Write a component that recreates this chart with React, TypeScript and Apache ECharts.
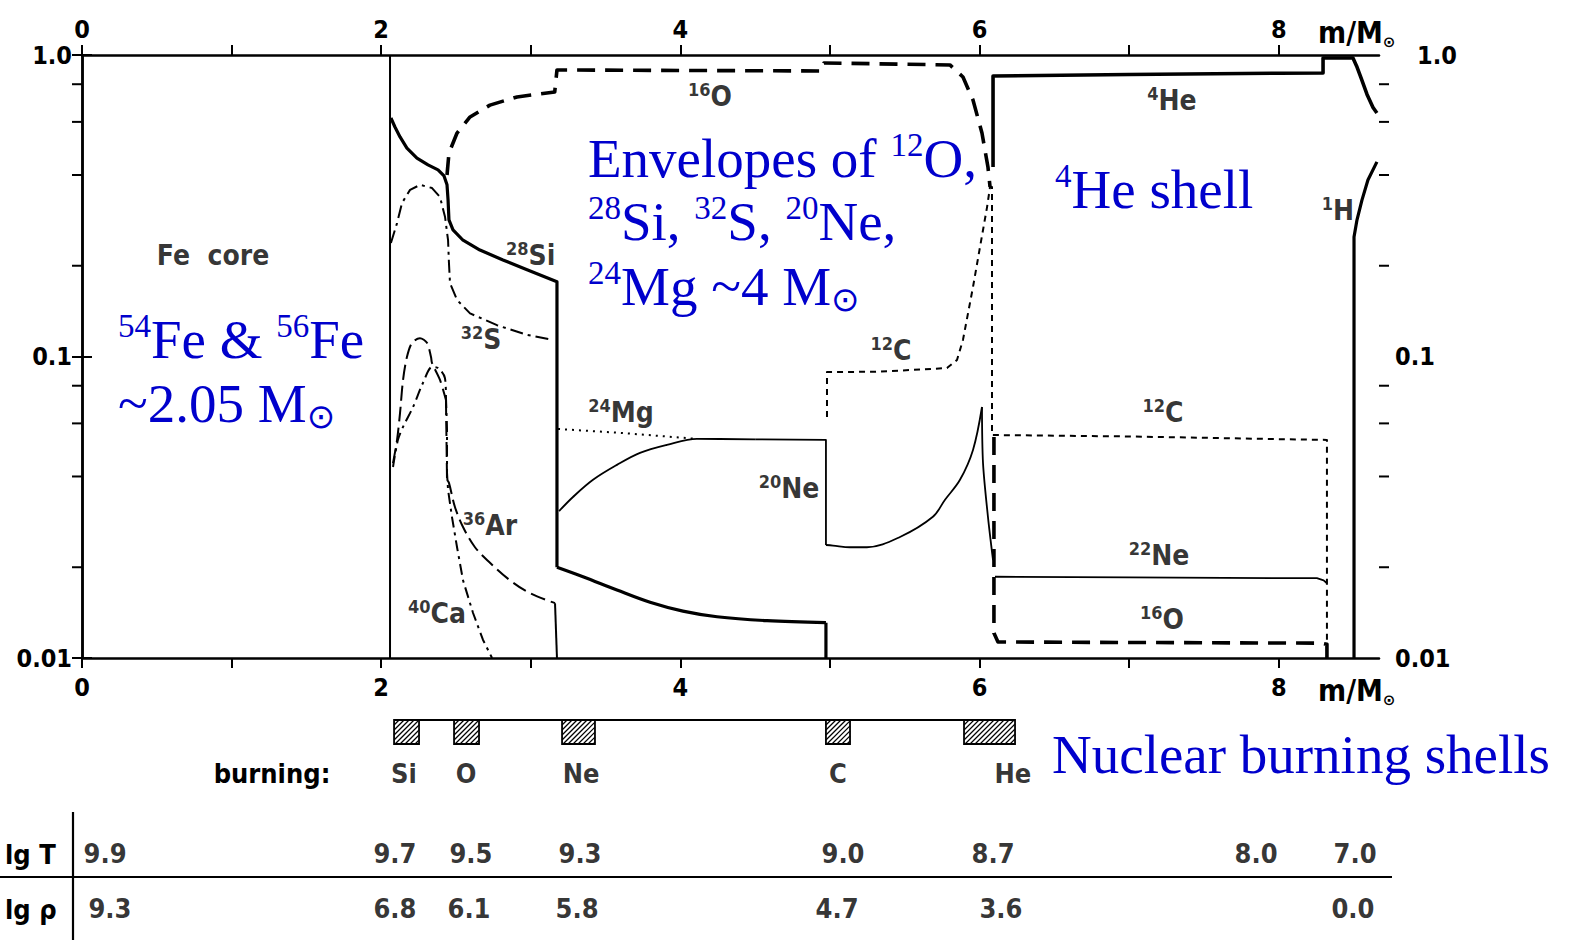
import React, { useEffect, useRef } from 'react';
import * as echarts from 'echarts';

// ---------- axes ----------
const X_MAX = 8.67;
const xTickValues = [0, 1, 2, 3, 4, 5, 6, 7, 8];
const xLabelValues = [0, 2, 4, 6, 8];
const yMinorTicks = [0.02, 0.04, 0.06, 0.08, 0.2, 0.4, 0.6, 0.8];

// ---------- abundance profiles: [m/Msun, mass fraction] ----------
const feBoundary = [[2.059, 1.0], [2.059, 0.01]];

const si28Core = [
  [2.065, 0.618], [2.092, 0.577], [2.126, 0.535], [2.172, 0.491], [2.239, 0.455], [2.313, 0.432],
  [2.38, 0.416], [2.42, 0.397], [2.44, 0.371], [2.447, 0.33], [2.453, 0.284], [2.48, 0.263],
  [2.547, 0.243], [2.66, 0.2255], [2.814, 0.209], [2.975, 0.194], [3.175, 0.177], [3.175, 0.02],
];
const si28Envelope = [
  [3.175, 0.02], [3.349, 0.0186], [3.576, 0.0168], [3.797, 0.0153], [4.017, 0.0143], [4.245, 0.0137],
  [4.579, 0.0133], [4.973, 0.0131],
];
const si28Edge = [[4.973, 0.0131], [4.973, 0.01]];

const s32 = [
  [2.065, 0.238], [2.106, 0.277], [2.139, 0.323], [2.193, 0.357], [2.26, 0.371], [2.34, 0.362],
  [2.393, 0.338], [2.427, 0.29], [2.447, 0.243], [2.453, 0.204], [2.46, 0.175], [2.507, 0.154],
  [2.594, 0.139], [2.774, 0.127], [2.975, 0.118], [3.148, 0.1135],
];

const ar36Arch = [
  [2.079, 0.0443], [2.106, 0.0529], [2.126, 0.065], [2.146, 0.0836], [2.172, 0.0996], [2.206, 0.111],
  [2.259, 0.115], [2.306, 0.111], [2.333, 0.0996], [2.34, 0.0951], [2.393, 0.0836], [2.433, 0.0717],
];
const ar36Drop = [[2.433, 0.0717], [2.44, 0.039]];
const ar36Tail = [
  [2.44, 0.039], [2.453, 0.0381], [2.493, 0.0317], [2.547, 0.0272], [2.627, 0.0233], [2.727, 0.0207],
  [2.861, 0.0181], [2.995, 0.0164], [3.162, 0.0152],
];
const ar36Edge = [[3.162, 0.0152], [3.175, 0.01]];

const ca40Arch = [
  [2.079, 0.043], [2.112, 0.0529], [2.146, 0.0584], [2.213, 0.068], [2.279, 0.0817], [2.34, 0.0923],
  [2.38, 0.0916], [2.426, 0.0849], [2.433, 0.0734],
];
const ca40Tail = [
  [2.433, 0.0734], [2.44, 0.0571], [2.44, 0.0411], [2.447, 0.0361], [2.473, 0.0294], [2.507, 0.0233],
  [2.547, 0.0181], [2.614, 0.0141], [2.68, 0.0115], [2.741, 0.01],
];

const o16Core = [
  [2.44, 0.4], [2.453, 0.473], [2.507, 0.551], [2.594, 0.623], [2.727, 0.682], [2.908, 0.726],
  [3.16, 0.754], [3.175, 0.892], [4.94, 0.885], [4.96, 0.941], [5.802, 0.927], [5.889, 0.845],
  [5.956, 0.709], [6.016, 0.551], [6.056, 0.425], [6.07, 0.365],
];
const o16Shell = [
  [6.096, 0.0541], [6.096, 0.0121], [6.123, 0.0113], [8.289, 0.0112], [8.322, 0.0111], [8.322, 0.01],
];

const mg24 = [[3.182, 0.0575], [3.6, 0.0558], [4.111, 0.0533]];

const ne20Rise = [
  [3.189, 0.0307], [3.282, 0.0342], [3.416, 0.039], [3.576, 0.0437], [3.73, 0.0479], [3.91, 0.0509],
  [4.111, 0.0533], [4.5, 0.0531],
];
const ne20Step = [[4.5, 0.0531], [4.973, 0.0529], [4.973, 0.0237]];
const ne20Trough = [
  [4.973, 0.0237], [5.02, 0.0236], [5.134, 0.0233], [5.247, 0.0233], [5.468, 0.0252], [5.688, 0.0294],
  [5.769, 0.0335], [5.869, 0.039], [5.956, 0.049], [6.016, 0.068],
];
const ne20Fall = [[6.016, 0.068], [6.023, 0.0443], [6.056, 0.0294], [6.09, 0.0211]];

const c12 = [
  [4.98, 0.063], [4.98, 0.0888], [5.3, 0.089], [5.6, 0.0905], [5.782, 0.0916], [5.849, 0.0974],
  [5.889, 0.1135], [5.956, 0.17], [6.003, 0.231], [6.05, 0.313], [6.07, 0.365], [6.083, 0.365],
  [6.083, 0.0549], [7.0, 0.0543], [8.0, 0.0532], [8.322, 0.0529], [8.322, 0.01],
];
const ne22 = [[6.103, 0.0186], [7.0, 0.0185], [8.0, 0.0184], [8.255, 0.0184], [8.3, 0.0181], [8.322, 0.0177]];
const he4 = [
  [6.09, 0.425], [6.09, 0.852], [7.0, 0.862], [8.0, 0.87], [8.296, 0.872], [8.296, 0.977],
  [8.496, 0.977], [8.52, 0.92], [8.55, 0.84], [8.59, 0.74], [8.63, 0.67], [8.656, 0.642],
];
const h1 = [[8.503, 0.01], [8.503, 0.249], [8.523, 0.284], [8.556, 0.33], [8.596, 0.385], [8.656, 0.442]];

// species labels: [m, X, mass number, element]
const speciesLabels = [
  [4.198, 0.731, '16', 'O'],
  [7.286, 0.709, '4', 'He'],
  [2.999, 0.217, '28', 'Si'],
  [2.667, 0.1135, '32', 'S'],
  [5.408, 0.105, '12', 'C'],
  [3.603, 0.065, '24', 'Mg'],
  [7.226, 0.065, '12', 'C'],
  [4.726, 0.0366, '20', 'Ne'],
  [2.727, 0.0276, '36', 'Ar'],
  [7.2, 0.0218, '22', 'Ne'],
  [2.373, 0.014, '40', 'Ca'],
  [7.219, 0.0134, '16', 'O'],
  [8.396, 0.306, '1', 'H'],
  [0.876, 0.217, '', 'Fe  core'],
];

// burning shells: [name, m start, m end]
const burningShells = [
  ['Si', 2.086, 2.253],
  ['O', 2.487, 2.654],
  ['Ne', 3.209, 3.429],
  ['C', 4.973, 5.134],
  ['He', 5.896, 6.237],
];
const burningLabelM = [2.152, 2.567, 3.336, 5.053, 6.223];

// lg T and lg rho table
const tableRows = ['lg T', 'lg ρ'];
const lgTMass = [0.154, 2.092, 2.6, 3.329, 5.087, 6.09, 7.848, 8.51];
const lgTValues = ['9.9', '9.7', '9.5', '9.3', '9.0', '8.7', '8.0', '7.0'];
const lgRhoMass = [0.187, 2.092, 2.587, 3.309, 5.047, 6.143, 8.496];
const lgRhoValues = ['9.3', '6.8', '6.1', '5.8', '4.7', '3.6', '0.0'];

// ---------- styles ----------
const BLACK_FONT = "'DejaVu Sans Condensed', 'Liberation Sans Narrow', 'Liberation Sans', sans-serif";
const BLUE_FONT = "'Liberation Serif', 'DejaVu Serif', serif";
const INK = '#000';
const BLUE = '#0000cc';

const blueRich = {
  n: { fontFamily: BLUE_FONT, fontSize: 55, lineHeight: 60, fill: BLUE, color: BLUE, verticalAlign: 'middle' },
  s: { fontFamily: BLUE_FONT, fontSize: 33, lineHeight: 36, fill: BLUE, color: BLUE, verticalAlign: 'top' },
  o: { fontFamily: "'DejaVu Sans', 'DejaVu Serif', sans-serif", fontSize: 34, lineHeight: 34, fill: BLUE, color: BLUE, verticalAlign: 'bottom' },
};
const blackRich = {
  n: { fontFamily: BLACK_FONT, fontSize: 28, fontWeight: 'bold', lineHeight: 32, color: INK, verticalAlign: 'middle' },
  s: { fontFamily: BLACK_FONT, fontSize: 18, fontWeight: 'bold', lineHeight: 16, color: INK, verticalAlign: 'top' },
};
const unitRich = {
  a: { fontFamily: BLACK_FONT, fontSize: 30, fontWeight: 'bold', lineHeight: 34, fill: INK, color: INK, verticalAlign: 'middle' },
  b: { fontFamily: "'DejaVu Sans', sans-serif", fontSize: 15, fontWeight: 'bold', lineHeight: 15, fill: INK, color: INK, verticalAlign: 'bottom' },
};

const blueText = (x: number, baseline: number, text: string) => ({
  type: 'text', x, y: baseline - 49, silent: true,
  style: { text, rich: blueRich, fill: BLUE, align: 'left', verticalAlign: 'top', textAlign: 'left', textVerticalAlign: 'top' },
});
const plainText = (x: number, y: number, text: string, align = 'left') => ({
  type: 'text', x, y, silent: true,
  style: { text, fill: INK, font: `bold 27px ${BLACK_FONT}`, align, verticalAlign: 'middle', textAlign: align, textVerticalAlign: 'middle' },
});
const unitText = (x: number, y: number) => ({
  type: 'text', x, y, silent: true,
  style: { text: '{a|m/M}{b|⊙}', rich: unitRich, fill: INK, align: 'left', verticalAlign: 'middle', textAlign: 'left', textVerticalAlign: 'middle' },
});

const fmtY = (v: number) => (v >= 0.99 ? '1.0' : String(+Number(v).toPrecision(1)));

const lineSeries = (name: string, data: number[][], width: number, type: any = 'solid', smooth: number | boolean = false) => ({
  name, type: 'line', data, xAxisIndex: 0, yAxisIndex: 0, showSymbol: false, symbol: 'none', silent: true, smooth,
  lineStyle: { color: INK, width, type, cap: 'butt', join: 'round' }, z: 3,
});

const axisLabelBase = { color: INK, fontSize: 25, fontWeight: 'bold', fontFamily: BLACK_FONT };
const valueLabel = { show: true, position: 'inside', color: INK, fontSize: 27, fontWeight: 'bold', fontFamily: BLACK_FONT };

export default function App() {
  const ref = useRef<HTMLDivElement>(null);
  useEffect(() => {
    if (!ref.current) return;
    const chart = echarts.init(ref.current, undefined, { renderer: 'svg' });
    const xAxisCommon = {
      type: 'value', min: 0, max: X_MAX, interval: 1,
      axisLine: { show: true, lineStyle: { color: INK, width: 2.5 } },
      axisTick: { show: true, length: 10, lineStyle: { color: INK, width: 2 }, customValues: xTickValues },
      axisLabel: { ...axisLabelBase, customValues: xLabelValues, formatter: (v: number) => String(v) },
      splitLine: { show: false },
    };
    const yAxisCommon = {
      type: 'log', logBase: 10, min: 0.01, max: 1,
      axisLine: { show: true, lineStyle: { color: INK, width: 2.5 } },
      axisTick: { show: true, length: 10, lineStyle: { color: INK, width: 2 } },
      splitLine: { show: false },
      minorTick: { show: false },
    };
    const option: any = {
      animation: false,
      backgroundColor: '#fff',
      textStyle: { fontFamily: BLACK_FONT },
      grid: [
        { left: 82, right: 196, top: 55, bottom: 282 },
        { left: 82, right: 196, top: 720, height: 24 },
        { left: 82, right: 196, top: 826, height: 110 },
      ],
      xAxis: [
        { ...xAxisCommon, gridIndex: 0, position: 'bottom', axisLabel: { ...xAxisCommon.axisLabel, margin: 17 } },
        { ...xAxisCommon, gridIndex: 0, position: 'top', axisLabel: { ...xAxisCommon.axisLabel, margin: 13 } },
        { type: 'value', gridIndex: 1, min: 0, max: X_MAX, show: false },
        { type: 'value', gridIndex: 2, min: 0, max: X_MAX, show: false },
      ],
      yAxis: [
        { ...yAxisCommon, gridIndex: 0, position: 'left', axisLabel: { ...axisLabelBase, margin: 10, formatter: fmtY } },
        {
          ...yAxisCommon, gridIndex: 0, position: 'right',
          axisLabel: {
            ...axisLabelBase, margin: 16,
            formatter: (v: number) => (v >= 0.99 ? '{o|1.0}' : fmtY(v)),
            rich: { o: { ...axisLabelBase, padding: [0, 0, 0, 22] } },
          },
        },
        { type: 'value', gridIndex: 1, min: 0, max: 1, show: false },
        { type: 'category', gridIndex: 2, data: tableRows, inverse: true, show: false },
      ],
      series: [
        lineSeries('Fe', feBoundary, 2),
        lineSeries('28Si', si28Core, 3.2),
        lineSeries('28Si', si28Envelope, 3.2, 'solid', 0.35),
        lineSeries('28Si', si28Edge, 3.2),
        lineSeries('32S', s32, 2, [13, 5, 3, 5]),
        lineSeries('36Ar', ar36Arch, 2, [15, 6], 0.3),
        lineSeries('36Ar', ar36Drop, 2, [15, 6]),
        lineSeries('36Ar', ar36Tail, 2, [15, 6], 0.35),
        lineSeries('36Ar', ar36Edge, 2),
        lineSeries('40Ca', ca40Arch, 2, [11, 5, 3, 5], 0.3),
        lineSeries('40Ca', ca40Tail, 2, [11, 5, 3, 5]),
        lineSeries('16O', o16Core, 3.6, [18, 10]),
        lineSeries('16O', o16Shell, 3.6, [18, 10]),
        lineSeries('24Mg', mg24, 2, [2, 5]),
        lineSeries('20Ne', ne20Rise, 1.8, 'solid', 0.35),
        lineSeries('20Ne', ne20Step, 1.8),
        lineSeries('20Ne', ne20Trough, 1.8, 'solid', 0.35),
        lineSeries('20Ne', ne20Fall, 1.8, 'solid', 0.3),
        lineSeries('12C', c12, 2, [6, 5]),
        lineSeries('22Ne', ne22, 1.8),
        lineSeries('4He', he4, 3.6),
        lineSeries('1H', h1, 3.2),
        {
          name: 'minor ticks', type: 'custom', xAxisIndex: 0, yAxisIndex: 0, silent: true, clip: false,
          data: yMinorTicks.map((v) => [0, v]),
          renderItem: (_p: any, api: any) => {
            const v = api.value(1);
            const l = api.coord([0, v]);
            const r = api.coord([X_MAX, v]);
            return {
              type: 'group',
              children: [
                { type: 'line', shape: { x1: l[0] - 10, y1: l[1], x2: l[0], y2: l[1] }, style: { stroke: INK, lineWidth: 2 } },
                { type: 'line', shape: { x1: r[0], y1: r[1], x2: r[0] + 10, y2: r[1] }, style: { stroke: INK, lineWidth: 2 } },
              ],
            };
          },
        },
        {
          name: 'species', type: 'scatter', xAxisIndex: 0, yAxisIndex: 0, silent: true,
          symbolSize: 1, itemStyle: { color: 'rgba(0,0,0,0)' },
          data: speciesLabels,
          label: {
            show: true, position: 'inside',
            formatter: (p: any) => (p.data[2] ? `{s|${p.data[2]}}` : '') + `{n|${p.data[3]}}`,
            rich: blackRich,
          },
          z: 5,
        },
        // burning shells
        {
          name: 'burning line', type: 'line', xAxisIndex: 2, yAxisIndex: 2, silent: true, showSymbol: false, symbol: 'none',
          data: [[burningShells[0][1], 1], [burningShells[burningShells.length - 1][2], 1]],
          lineStyle: { color: INK, width: 2.2 },
        },
        {
          name: 'burning shells', type: 'custom', xAxisIndex: 2, yAxisIndex: 2, silent: true, clip: false,
          encode: { x: [0, 1] },
          data: burningShells.map((s) => [s[1], s[2]]),
          renderItem: (_p: any, api: any) => {
            const p0 = api.coord([api.value(0), 1]);
            const p1 = api.coord([api.value(1), 0]);
            const x0 = p0[0], y0 = p0[1], x1 = p1[0], y1 = p1[1];
            const h = y1 - y0;
            const children: any[] = [
              { type: 'rect', shape: { x: x0, y: y0, width: x1 - x0, height: h }, style: { fill: '#fff', stroke: INK, lineWidth: 1.8 } },
            ];
            for (let a = x0 - h; a < x1; a += 5) {
              const tmin = Math.max(0, x0 - a);
              const tmax = Math.min(h, x1 - a);
              if (tmax > tmin) {
                children.push({ type: 'line', shape: { x1: a + tmin, y1: y1 - tmin, x2: a + tmax, y2: y1 - tmax }, style: { stroke: INK, lineWidth: 1.2 } });
              }
            }
            return { type: 'group', children };
          },
        },
        {
          name: 'burning labels', type: 'scatter', xAxisIndex: 2, yAxisIndex: 2, silent: true,
          symbolSize: 1, itemStyle: { color: 'rgba(0,0,0,0)' },
          data: burningLabelM.map((m, i) => [m, 0, burningShells[i][0]]),
          label: { ...valueLabel, offset: [0, 29], formatter: (p: any) => p.data[2] },
        },
        // table
        {
          name: 'lg T', type: 'scatter', xAxisIndex: 3, yAxisIndex: 3, silent: true,
          symbolSize: 1, itemStyle: { color: 'rgba(0,0,0,0)' },
          data: lgTMass.map((m, i) => [m, tableRows[0], lgTValues[i]]),
          label: { ...valueLabel, formatter: (p: any) => p.data[2] },
        },
        {
          name: 'lg rho', type: 'scatter', xAxisIndex: 3, yAxisIndex: 3, silent: true,
          symbolSize: 1, itemStyle: { color: 'rgba(0,0,0,0)' },
          data: lgRhoMass.map((m, i) => [m, tableRows[1], lgRhoValues[i]]),
          label: { ...valueLabel, formatter: (p: any) => p.data[2] },
        },
      ],
      graphic: [
        unitText(1318, 32),
        unitText(1318, 690),
        plainText(272, 773, 'burning:', 'center'),
        plainText(5, 854, tableRows[0]),
        plainText(5, 909, tableRows[1]),
        { type: 'line', silent: true, shape: { x1: 73, y1: 812, x2: 73, y2: 940 }, style: { stroke: INK, lineWidth: 2.2 } },
        { type: 'line', silent: true, shape: { x1: 0, y1: 877, x2: 1392, y2: 877 }, style: { stroke: INK, lineWidth: 2.2 } },
        blueText(118, 358, '{s|54}{n|Fe & }{s|56}{n|Fe}'),
        blueText(118, 422, '{n|~2.05 M}{o|⊙}'),
        blueText(588, 177, '{n|Envelopes of }{s|12}{n|O,}'),
        blueText(588, 240, '{s|28}{n|Si, }{s|32}{n|S, }{s|20}{n|Ne,}'),
        blueText(588, 305, '{s|24}{n|Mg ~4 M}{o|⊙}'),
        blueText(1055, 208, '{s|4}{n|He shell}'),
        blueText(1052, 773, '{n|Nuclear burning shells}'),
      ],
    };
    chart.setOption(option);
    return () => chart.dispose();
  }, []);
  return <div ref={ref} style={{ position: 'fixed', left: 0, top: 0, width: 1575, height: 940, background: '#fff' }} />;
}
